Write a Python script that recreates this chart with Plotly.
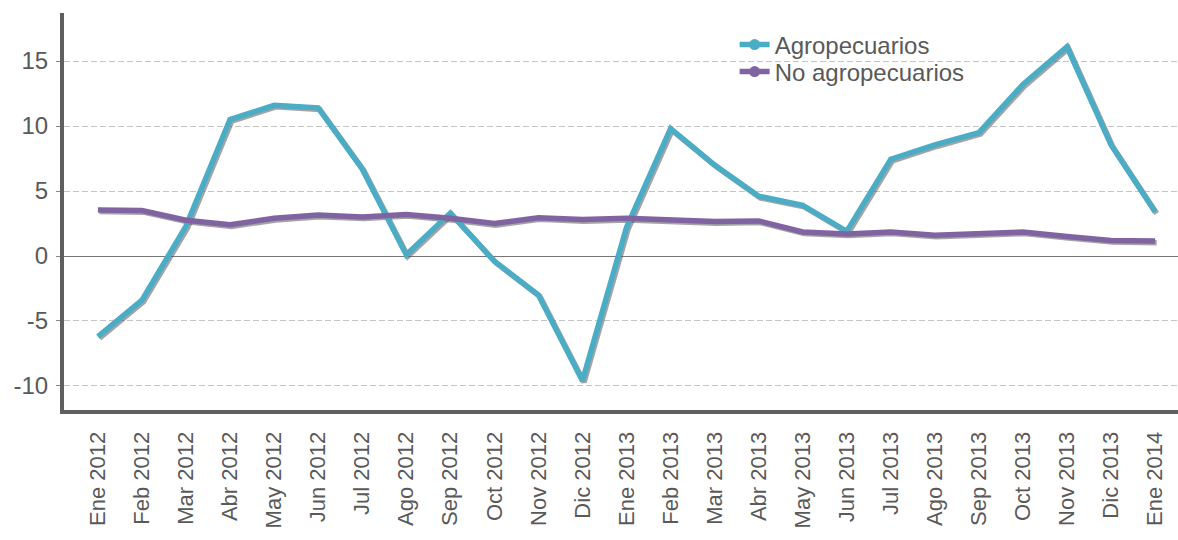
import plotly.graph_objects as go

# Monthly series, Ene 2012 - Ene 2014
months = [
    "Ene 2012", "Feb 2012", "Mar 2012", "Abr 2012", "May 2012", "Jun 2012",
    "Jul 2012", "Ago 2012", "Sep 2012", "Oct 2012", "Nov 2012", "Dic 2012",
    "Ene 2013", "Feb 2013", "Mar 2013", "Abr 2013", "May 2013", "Jun 2013",
    "Jul 2013", "Ago 2013", "Sep 2013", "Oct 2013", "Nov 2013", "Dic 2013",
    "Ene 2014",
]
agropecuarios = [
    -6.2, -3.4, 2.3, 10.5, 11.6, 11.4, 6.7, 0.1, 3.3, -0.4, -3.0, -9.6,
    2.2, 9.8, 7.0, 4.6, 3.9, 1.9, 7.45, 8.55, 9.5, 13.2, 16.1, 8.55, 3.4,
]
no_agropecuarios = [
    3.55, 3.5, 2.75, 2.4, 2.9, 3.15, 3.0, 3.2, 2.9, 2.5, 2.95, 2.8,
    2.9, 2.8, 2.65, 2.7, 1.85, 1.7, 1.85, 1.6, 1.75, 1.85, 1.5, 1.2, 1.15,
]
y_ticks = [-10, -5, 0, 5, 10, 15]
y_tick_text = ["-10", "-5", "0", "5", "10", "15"]

TEAL = "#4BACC6"
PURPLE = "#8064A2"
TEXT = "#595959"
AXIS = "#5f5f5f"
FONT = "Liberation Sans, Arial, sans-serif"

W, H = 1178, 540
M_L, M_R, M_T, M_B = 64, 0, 13, 130
x_range = [-0.77, 24.52]
y_range = [-11.85, 18.7]
LINE_W = 5.5

# pixel scale of the plot area, used to offset the drop shadow by a fixed amount
px_per_x = (W - M_L - M_R) / (x_range[1] - x_range[0])
px_per_y = (H - M_T - M_B) / (y_range[1] - y_range[0])
shadow_dx, shadow_dy = 1.6, 1.6
x2_range = [x_range[0] - shadow_dx / px_per_x, x_range[1] - shadow_dx / px_per_x]
y2_range = [y_range[0] + shadow_dy / px_per_y, y_range[1] + shadow_dy / px_per_y]

idx = list(range(len(months)))

fig = go.Figure()

# soft drop shadows under each line (shifted overlay axes)
for series in (agropecuarios, no_agropecuarios):
    fig.add_trace(go.Scatter(
        x=idx, y=series, mode="lines", xaxis="x2", yaxis="y2",
        line=dict(color="rgba(90,90,90,0.55)", width=LINE_W),
        showlegend=False, hoverinfo="skip",
    ))

# the lines themselves, on an overlay drawn above the shadows
fig.add_trace(go.Scatter(
    x=idx, y=agropecuarios, mode="lines", name="Agropecuarios",
    xaxis="x3", yaxis="y3",
    line=dict(color=TEAL, width=LINE_W), showlegend=False,
))
fig.add_trace(go.Scatter(
    x=idx, y=no_agropecuarios, mode="lines", name="No agropecuarios",
    xaxis="x3", yaxis="y3",
    line=dict(color=PURPLE, width=LINE_W), showlegend=False,
))

# legend entries (line with a round marker)
fig.add_trace(go.Scatter(
    x=[None], y=[None], mode="lines+markers", name="Agropecuarios",
    line=dict(color=TEAL, width=LINE_W), marker=dict(color=TEAL, size=11),
    legend="legend",
))
fig.add_trace(go.Scatter(
    x=[None], y=[None], mode="lines+markers", name="No agropecuarios",
    line=dict(color=PURPLE, width=LINE_W), marker=dict(color=PURPLE, size=11),
    legend="legend2",
))

plot_h = H - M_T - M_B
leg_common = dict(
    xanchor="left", yanchor="middle", x=0.602,
    bgcolor="rgba(0,0,0,0)", font=dict(family=FONT, size=24, color=TEXT),
)

fig.update_layout(
    width=W, height=H,
    margin=dict(l=M_L, r=M_R, t=M_T, b=M_B),
    paper_bgcolor="white", plot_bgcolor="white",
    font=dict(family=FONT, color=TEXT),
    xaxis=dict(
        range=x_range, tickmode="array", tickvals=idx, ticktext=months,
        tickangle=-90, tickfont=dict(size=22, color=TEXT), ticks="",
        ticklabelstandoff=9,
        showgrid=False, zeroline=False,
        showline=True, linecolor=AXIS, linewidth=4,
    ),
    yaxis=dict(
        range=y_range, tickmode="array", tickvals=y_ticks, ticktext=y_tick_text,
        tickfont=dict(size=24, color=TEXT),
        ticks="outside", ticklen=4, tickwidth=1, tickcolor="#888888",
        ticklabelstandoff=3,
        showgrid=True, gridcolor="#c4c4c4", gridwidth=1, griddash="6px,3px",
        zeroline=True, zerolinecolor="#777777", zerolinewidth=1,
        showline=True, linecolor=AXIS, linewidth=4,
    ),
    xaxis2=dict(range=x2_range, overlaying="x", visible=False),
    yaxis2=dict(range=y2_range, overlaying="y", visible=False),
    xaxis3=dict(range=x_range, overlaying="x", visible=False),
    yaxis3=dict(range=y_range, overlaying="y", visible=False),
    legend=dict(y=(H - M_B - 45) / plot_h, **leg_common),
    legend2=dict(y=(H - M_B - 72) / plot_h, **leg_common),
)

fig.write_html("out.html")
